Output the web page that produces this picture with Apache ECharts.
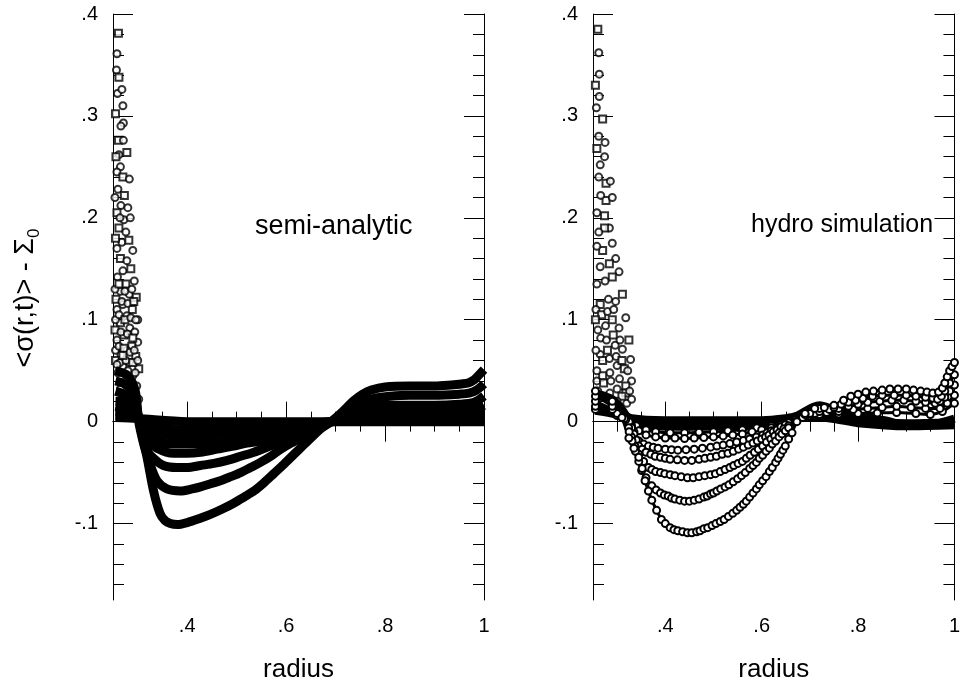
<!DOCTYPE html>
<html>
<head>
<meta charset="utf-8">
<script src="https://cdn.jsdelivr.net/npm/echarts@6/dist/echarts.min.js"></script>
<style>
    html, body {margin: 0; padding: 0; background: #fff; overflow: hidden;}
    #chartWrap {width: 963px; height: 688px;}
</style>
</head>
<body>
<div id="chartWrap"></div>
<script>
// tick positions
const xMajor = [0.4, 0.6, 0.8, 1.0];
const xMinor = [0.3, 0.35, 0.45, 0.5, 0.55, 0.65, 0.7, 0.75, 0.85, 0.9, 0.95];
const yMajor = [-0.1, 0, 0.1, 0.2, 0.3, 0.4];
const yMinor = [-0.16, -0.14, -0.12, -0.08, -0.06, -0.04, -0.02, 0.02, 0.04, 0.06, 0.08,
    0.12, 0.14, 0.16, 0.18, 0.22, 0.24, 0.26, 0.28, 0.32, 0.34, 0.36, 0.38];

// semi-analytic panel, one array per snapshot [radius, value]
const semi1 = [[0.255, 0.05], [0.28, 0.045], [0.295, 0.03], [0.302, 0.0], [0.31, -0.018], [0.318, -0.033],
    [0.332, -0.068], [0.345, -0.090], [0.355, -0.097], [0.366, -0.100], [0.38, -0.101], [0.40, -0.099],
    [0.425, -0.095], [0.447, -0.091], [0.47, -0.086], [0.494, -0.080], [0.515, -0.074], [0.535, -0.068],
    [0.555, -0.060], [0.575, -0.051], [0.595, -0.042], [0.616, -0.032], [0.635, -0.023], [0.65, -0.016],
    [0.67, -0.007], [0.691, 0.0], [0.71, 0.008], [0.738, 0.021], [0.755, 0.027], [0.772, 0.031], [0.80, 0.034],
    [0.85, 0.035], [0.90, 0.035], [0.934, 0.036], [0.955, 0.037], [0.968, 0.038], [0.98, 0.041], [0.99, 0.046],
    [1.0, 0.051]];
const semi2 = [[0.255, 0.04], [0.28, 0.035], [0.295, 0.02], [0.303, 0.0], [0.313, -0.022], [0.325, -0.042],
    [0.339, -0.058], [0.359, -0.066], [0.386, -0.068], [0.41, -0.066], [0.427, -0.064], [0.447, -0.061],
    [0.467, -0.058], [0.488, -0.054], [0.508, -0.050], [0.528, -0.045], [0.548, -0.040], [0.569, -0.034],
    [0.589, -0.027], [0.61, -0.021], [0.63, -0.016], [0.66, -0.008], [0.691, 0.0], [0.72, 0.010], [0.75, 0.018],
    [0.78, 0.023], [0.81, 0.025], [0.85, 0.026], [0.90, 0.026], [0.95, 0.027], [0.97, 0.028], [0.985, 0.031],
    [1.0, 0.037]];
const semi3 = [[0.255, 0.03], [0.28, 0.025], [0.295, 0.015], [0.304, 0.0], [0.318, -0.028], [0.332, -0.036],
    [0.352, -0.043], [0.379, -0.045], [0.40, -0.045], [0.427, -0.043], [0.454, -0.041], [0.481, -0.038],
    [0.508, -0.034], [0.535, -0.030], [0.562, -0.025], [0.589, -0.020], [0.616, -0.015], [0.643, -0.0096],
    [0.67, -0.004], [0.691, 0.0], [0.72, 0.007], [0.75, 0.012], [0.78, 0.015], [0.81, 0.016], [0.90, 0.016],
    [0.95, 0.017], [0.98, 0.019], [1.0, 0.025]];
const semi4 = [[0.255, 0.02], [0.28, 0.018], [0.295, 0.01], [0.305, 0.0], [0.32, -0.018], [0.339, -0.026],
    [0.372, -0.031], [0.40, -0.031], [0.427, -0.030], [0.46, -0.027], [0.494, -0.024], [0.521, -0.021],
    [0.548, -0.019], [0.575, -0.015], [0.603, -0.012], [0.63, -0.008], [0.66, -0.004], [0.691, 0.0],
    [0.72, 0.004], [0.75, 0.008], [0.80, 0.010], [0.90, 0.010], [0.97, 0.011], [1.0, 0.016]];
const semi5 = [[0.255, 0.015], [0.29, 0.01], [0.306, 0.0], [0.32, -0.014], [0.339, -0.020], [0.386, -0.022],
    [0.454, -0.021], [0.528, -0.017], [0.603, -0.011], [0.65, -0.005], [0.691, 0.0], [0.75, 0.005],
    [0.80, 0.007], [0.90, 0.007], [0.97, 0.008], [1.0, 0.011]];
const semi6 = [[0.255, 0.01], [0.29, 0.008], [0.306, 0.0], [0.33, -0.011], [0.40, -0.014], [0.48, -0.012],
    [0.56, -0.009], [0.63, -0.005], [0.691, 0.0], [0.80, 0.004], [0.95, 0.005], [1.0, 0.007]];
const semi7 = [[0.255, 0.006], [0.30, 0.004], [0.33, -0.005], [0.40, -0.008], [0.50, -0.007], [0.60, -0.004],
    [0.691, 0.0], [0.80, 0.002], [1.0, 0.003]];
const semi8 = [[0.255, 0.004], [0.30, 0.003], [0.40, 0.0], [0.70, 0.0], [1.0, 0.0]];
const semiCloud = [[0.261, 0.381], [0.258, 0.361], [0.257, 0.345], [0.262, 0.338], [0.259, 0.322],
    [0.268, 0.326], [0.255, 0.302], [0.27, 0.31], [0.271, 0.293], [0.261, 0.276], [0.271, 0.276],
    [0.262, 0.262], [0.278, 0.264], [0.265, 0.25], [0.258, 0.245], [0.27, 0.24], [0.283, 0.238],
    [0.26, 0.228], [0.273, 0.222], [0.266, 0.212], [0.28, 0.21], [0.258, 0.205], [0.272, 0.198],
    [0.285, 0.2], [0.262, 0.19], [0.276, 0.186], [0.268, 0.176], [0.282, 0.178], [0.258, 0.17],
    [0.29, 0.168], [0.265, 0.16], [0.278, 0.158], [0.27, 0.148], [0.286, 0.15], [0.259, 0.142],
    [0.293, 0.138], [0.276, 0.135], [0.265, 0.128], [0.283, 0.125], [0.297, 0.122], [0.27, 0.115],
    [0.258, 0.11], [0.289, 0.11], [0.278, 0.104], [0.30, 0.1], [0.265, 0.097], [0.284, 0.092],
    [0.294, 0.088], [0.272, 0.085], [0.258, 0.08], [0.30, 0.078], [0.288, 0.074], [0.278, 0.07],
    [0.266, 0.066], [0.296, 0.064], [0.283, 0.058], [0.27, 0.054], [0.302, 0.052], [0.26, 0.048],
    [0.29, 0.045], [0.278, 0.04], [0.298, 0.035], [0.265, 0.032], [0.285, 0.028], [0.302, 0.022],
    [0.254, 0.13], [0.262, 0.135], [0.274, 0.128], [0.288, 0.13], [0.256, 0.12], [0.268, 0.118],
    [0.28, 0.116], [0.292, 0.118], [0.255, 0.1], [0.262, 0.105], [0.274, 0.1], [0.286, 0.102],
    [0.296, 0.1], [0.254, 0.09], [0.266, 0.088], [0.279, 0.086], [0.29, 0.082], [0.255, 0.07],
    [0.262, 0.074], [0.272, 0.072], [0.284, 0.068], [0.293, 0.07], [0.255, 0.06], [0.264, 0.058],
    [0.276, 0.06], [0.29, 0.058], [0.30, 0.06], [0.258, 0.056], [0.27, 0.065], [0.28, 0.05],
    [0.295, 0.048], [0.255, 0.18], [0.264, 0.2], [0.254, 0.22], [0.256, 0.26], [0.266, 0.29]];

// hydro simulation panel
const hydro1 = [[0.255, 0.03], [0.29, 0.02], [0.31, 0.004], [0.3245, -0.016], [0.335, -0.026], [0.345, -0.035],
    [0.352, -0.046], [0.358, -0.058], [0.365, -0.068], [0.372, -0.077], [0.382, -0.087], [0.392, -0.096],
    [0.40, -0.100], [0.41, -0.104], [0.418, -0.106], [0.426, -0.107], [0.436, -0.108], [0.446, -0.109],
    [0.455, -0.109], [0.465, -0.108], [0.472, -0.107], [0.48, -0.105], [0.488, -0.104], [0.497, -0.102],
    [0.505, -0.100], [0.514, -0.098], [0.522, -0.096], [0.531, -0.093], [0.54, -0.090], [0.548, -0.087],
    [0.555, -0.084], [0.562, -0.081], [0.568, -0.078], [0.575, -0.074], [0.582, -0.070], [0.589, -0.066],
    [0.595, -0.062], [0.602, -0.058], [0.609, -0.054], [0.616, -0.049], [0.622, -0.045], [0.629, -0.040],
    [0.634, -0.036], [0.639, -0.032], [0.644, -0.028], [0.649, -0.024], [0.656, -0.017], [0.663, -0.011],
    [0.673, 0.0], [0.69, 0.008], [0.71, 0.013], [0.73, 0.014], [0.75, 0.016], [0.77, 0.021], [0.785, 0.025],
    [0.80, 0.027], [0.816, 0.029], [0.832, 0.030], [0.85, 0.031], [0.866, 0.032], [0.883, 0.032], [0.90, 0.032],
    [0.915, 0.031], [0.93, 0.030], [0.943, 0.029], [0.955, 0.028], [0.967, 0.029], [0.975, 0.033],
    [0.98, 0.038], [0.985, 0.044], [0.99, 0.05], [0.995, 0.054], [1.0, 0.058]];
const hydro2 = [[0.255, 0.025], [0.29, 0.015], [0.315, 0.003], [0.325, -0.01], [0.331, -0.019], [0.338, -0.029],
    [0.345, -0.039], [0.351, -0.048], [0.36, -0.055], [0.372, -0.063], [0.381, -0.067], [0.39, -0.070],
    [0.398, -0.072], [0.406, -0.073], [0.413, -0.075], [0.42, -0.076], [0.43, -0.077], [0.44, -0.078],
    [0.45, -0.078], [0.46, -0.077], [0.47, -0.076], [0.48, -0.074], [0.487, -0.073], [0.494, -0.071],
    [0.50, -0.070], [0.507, -0.068], [0.515, -0.066], [0.524, -0.064], [0.532, -0.062], [0.541, -0.059],
    [0.55, -0.056], [0.558, -0.053], [0.566, -0.050], [0.575, -0.046], [0.582, -0.043], [0.589, -0.040],
    [0.595, -0.036], [0.602, -0.033], [0.609, -0.029], [0.616, -0.026], [0.622, -0.022], [0.629, -0.019],
    [0.636, -0.015], [0.642, -0.012], [0.649, -0.009], [0.656, -0.006], [0.67, 0.0], [0.69, 0.007],
    [0.72, 0.013], [0.75, 0.014], [0.765, 0.017], [0.78, 0.019], [0.795, 0.021], [0.81, 0.023], [0.83, 0.025],
    [0.85, 0.026], [0.875, 0.026], [0.90, 0.026], [0.92, 0.025], [0.94, 0.024], [0.955, 0.023],
    [0.965, 0.022], [0.973, 0.025], [0.98, 0.03], [0.99, 0.038], [1.0, 0.046]];
const hydro3 = [[0.255, 0.02], [0.29, 0.012], [0.318, 0.002], [0.324, -0.006], [0.33, -0.015], [0.337, -0.024],
    [0.345, -0.032], [0.355, -0.039], [0.365, -0.045], [0.372, -0.047], [0.38, -0.049], [0.39, -0.050],
    [0.399, -0.051], [0.41, -0.052], [0.42, -0.053], [0.433, -0.054], [0.446, -0.055], [0.458, -0.055],
    [0.47, -0.054], [0.482, -0.053], [0.494, -0.052], [0.504, -0.051], [0.514, -0.049], [0.524, -0.047],
    [0.534, -0.045], [0.542, -0.043], [0.551, -0.041], [0.56, -0.039], [0.568, -0.036], [0.576, -0.033],
    [0.585, -0.030], [0.593, -0.027], [0.602, -0.024], [0.61, -0.020], [0.619, -0.017], [0.627, -0.014],
    [0.636, -0.011], [0.646, -0.007], [0.656, -0.004], [0.67, 0.0], [0.685, 0.004], [0.70, 0.008],
    [0.72, 0.010], [0.74, 0.012], [0.76, 0.013], [0.78, 0.015], [0.80, 0.017], [0.82, 0.019], [0.845, 0.020],
    [0.87, 0.021], [0.895, 0.021], [0.92, 0.020], [0.94, 0.019], [0.96, 0.018], [0.97, 0.020], [0.98, 0.024],
    [0.99, 0.030], [1.0, 0.036]];
const hydro4 = [[0.255, 0.015], [0.30, 0.008], [0.325, 0.0], [0.33, -0.006], [0.335, -0.012], [0.34, -0.018],
    [0.345, -0.024], [0.352, -0.027], [0.36, -0.03], [0.37, -0.032], [0.379, -0.034], [0.39, -0.035],
    [0.40, -0.036], [0.41, -0.037], [0.425, -0.0375], [0.44, -0.038], [0.455, -0.038], [0.47, -0.037],
    [0.482, -0.036], [0.494, -0.035], [0.506, -0.034], [0.518, -0.032], [0.53, -0.031], [0.541, -0.029],
    [0.552, -0.027], [0.562, -0.025], [0.572, -0.023], [0.582, -0.021], [0.591, -0.019], [0.60, -0.017],
    [0.608, -0.015], [0.615, -0.013], [0.624, -0.010], [0.632, -0.008], [0.64, -0.005], [0.649, -0.003],
    [0.67, 0.002], [0.69, 0.005], [0.71, 0.008], [0.735, 0.009], [0.76, 0.010], [0.79, 0.012], [0.82, 0.013],
    [0.85, 0.014], [0.88, 0.015], [0.91, 0.014], [0.94, 0.013], [0.97, 0.013], [0.985, 0.018], [1.0, 0.026]];
const hydro5 = [[0.255, 0.012], [0.30, 0.006], [0.325, 0.0], [0.335, -0.01], [0.345, -0.019], [0.355, -0.022],
    [0.365, -0.024], [0.375, -0.025], [0.385, -0.026], [0.40, -0.027], [0.413, -0.0275], [0.426, -0.028],
    [0.443, -0.0275], [0.46, -0.027], [0.477, -0.026], [0.494, -0.025], [0.507, -0.024], [0.52, -0.023],
    [0.534, -0.0215], [0.548, -0.020], [0.562, -0.0185], [0.575, -0.017], [0.589, -0.015], [0.602, -0.013],
    [0.611, -0.011], [0.62, -0.009], [0.631, -0.007], [0.642, -0.005], [0.656, -0.001], [0.67, 0.003],
    [0.695, 0.005], [0.72, 0.007], [0.76, 0.0075], [0.80, 0.008], [0.84, 0.0085], [0.88, 0.009], [0.92, 0.008],
    [0.95, 0.007], [0.975, 0.010], [1.0, 0.018]];
const hydro6 = [[0.33, -0.004], [0.345, -0.009], [0.36, -0.013], [0.38, -0.015], [0.40, -0.016], [0.42, -0.016],
    [0.44, -0.0165], [0.46, -0.016], [0.48, -0.0155], [0.50, -0.015], [0.52, -0.014], [0.54, -0.013],
    [0.56, -0.012], [0.58, -0.010], [0.60, -0.008], [0.62, -0.006], [0.64, -0.003], [0.66, 0.0]];
const hydro9 = [[0.34, -0.004], [0.36, -0.008], [0.38, -0.010], [0.41, -0.011], [0.44, -0.011], [0.47, -0.0105],
    [0.50, -0.010], [0.53, -0.009], [0.56, -0.008], [0.59, -0.006], [0.62, -0.004], [0.64, -0.002]];
const hydro7 = [[0.255, 0.028], [0.29, 0.022], [0.31, 0.012], [0.33, 0.0], [0.36, -0.004], [0.45, -0.005],
    [0.55, -0.004], [0.63, -0.002], [0.67, 0.005], [0.72, 0.016], [0.75, 0.012], [0.80, 0.006], [0.86, 0.001],
    [0.90, -0.004], [0.95, -0.003], [1.0, 0.003]];
const hydro8 = [[0.255, 0.012], [0.30, 0.008], [0.33, 0.002], [0.40, 0.0], [0.60, 0.0], [0.65, 0.002],
    [0.70, 0.006], [0.75, 0.004], [0.80, 0.0], [0.90, -0.003], [1.0, -0.002]];
const hydroCloud = [[0.26, 0.385], [0.262, 0.362], [0.263, 0.341], [0.255, 0.33], [0.263, 0.319],
    [0.257, 0.308], [0.27, 0.297], [0.262, 0.28], [0.275, 0.274], [0.258, 0.268], [0.274, 0.26],
    [0.265, 0.252], [0.277, 0.234], [0.262, 0.24], [0.286, 0.236], [0.277, 0.217], [0.266, 0.222],
    [0.29, 0.22], [0.274, 0.202], [0.258, 0.205], [0.284, 0.19], [0.274, 0.19], [0.262, 0.186],
    [0.29, 0.175], [0.27, 0.168], [0.258, 0.172], [0.297, 0.16], [0.284, 0.155], [0.265, 0.152],
    [0.304, 0.147], [0.29, 0.142], [0.275, 0.138], [0.258, 0.135], [0.311, 0.125], [0.297, 0.118],
    [0.282, 0.12], [0.265, 0.115], [0.318, 0.102], [0.304, 0.092], [0.29, 0.1], [0.276, 0.094],
    [0.26, 0.09], [0.3245, 0.08], [0.311, 0.071], [0.296, 0.075], [0.28, 0.07], [0.265, 0.066],
    [0.328, 0.061], [0.315, 0.052], [0.30, 0.055], [0.285, 0.048], [0.27, 0.045], [0.258, 0.05],
    [0.33, 0.04], [0.318, 0.035], [0.30, 0.032], [0.285, 0.028], [0.27, 0.025], [0.32, 0.018],
    [0.305, 0.015], [0.29, 0.012], [0.275, 0.01], [0.256, 0.11], [0.268, 0.105], [0.28, 0.108],
    [0.293, 0.11], [0.255, 0.1], [0.266, 0.082], [0.278, 0.08], [0.292, 0.085], [0.306, 0.08],
    [0.256, 0.07], [0.27, 0.06], [0.284, 0.062], [0.298, 0.064], [0.31, 0.06], [0.322, 0.05],
    [0.258, 0.04], [0.272, 0.038], [0.287, 0.04], [0.305, 0.042], [0.318, 0.028], [0.33, 0.022],
    [0.326, 0.03], [0.31, 0.025], [0.26, 0.03], [0.30, 0.02]];

const FONT = 'Liberation Sans';

function fmt(v) {
    if (v === 0) return '0';
    let s = String(Math.abs(v)).replace(/^0/, '');
    return (v < 0 ? '-' : '') + s;
}

function xAxes(g) {
    const base = {type: 'value', gridIndex: g, min: 0.25, max: 1, splitLine: {show: false}};
    return [
        Object.assign({}, base, {
            position: 'bottom',
            axisLine: {show: true, lineStyle: {color: '#000', width: 1}},
            axisTick: {show: true, inside: true, length: 20, customValues: xMajor, lineStyle: {color: '#000'}},
            axisLabel: {show: true, customValues: xMajor, formatter: fmt, fontSize: 20, margin: 16,
                color: '#000', fontFamily: FONT},
            name: 'radius', nameLocation: 'middle', nameGap: 57,
            nameTextStyle: {fontSize: 26, color: '#000', fontFamily: FONT}
        }),
        Object.assign({}, base, {
            position: 'bottom', axisLine: {show: false},
            axisTick: {show: true, inside: true, length: 10, customValues: xMinor, lineStyle: {color: '#000'}},
            axisLabel: {show: false}
        }),
        Object.assign({}, base, {
            position: 'top',
            axisLine: {show: true, lineStyle: {color: '#000', width: 1}},
            axisTick: {show: true, inside: true, length: 20, customValues: xMajor, lineStyle: {color: '#000'}},
            axisLabel: {show: false}
        }),
        Object.assign({}, base, {
            position: 'top', axisLine: {show: false},
            axisTick: {show: true, inside: true, length: 10, customValues: xMinor, lineStyle: {color: '#000'}},
            axisLabel: {show: false}
        })
    ];
}

function yAxes(g) {
    const base = {type: 'value', gridIndex: g, min: -0.175, max: 0.4, splitLine: {show: false}};
    return [
        Object.assign({}, base, {
            position: 'left',
            axisLine: {show: true, lineStyle: {color: '#000', width: 1}},
            axisTick: {show: true, inside: true, length: 20, customValues: yMajor, lineStyle: {color: '#000'}},
            axisLabel: {show: true, customValues: yMajor, formatter: fmt, fontSize: 20, margin: 15,
                color: '#000', fontFamily: FONT}
        }),
        Object.assign({}, base, {
            position: 'left', axisLine: {show: false},
            axisTick: {show: true, inside: true, length: 11, customValues: yMinor, lineStyle: {color: '#000'}},
            axisLabel: {show: false}
        }),
        Object.assign({}, base, {
            position: 'right',
            axisLine: {show: true, lineStyle: {color: '#000', width: 1}},
            axisTick: {show: true, inside: true, length: 20, customValues: yMajor, lineStyle: {color: '#000'}},
            axisLabel: {show: false}
        }),
        Object.assign({}, base, {
            position: 'right', axisLine: {show: false},
            axisTick: {show: true, inside: true, length: 11, customValues: yMinor, lineStyle: {color: '#000'}},
            axisLabel: {show: false}
        })
    ];
}

function band(data, g, w) {
    return {
        type: 'line', data: data, xAxisIndex: g * 4, yAxisIndex: g * 4,
        smooth: 0.3, symbol: 'none', silent: true,
        lineStyle: {color: '#000', width: w}
    };
}

function chain(data, g) {
    return {
        type: 'line', data: data, xAxisIndex: g * 4, yAxisIndex: g * 4,
        smooth: 0.3, symbol: 'emptyCircle', symbolSize: 7, showSymbol: true, silent: true,
        itemStyle: {color: '#000', borderWidth: 1.4},
        lineStyle: {color: '#000', width: 3}
    };
}

function cloud(data, g) {
    return {
        type: 'scatter', data: data, xAxisIndex: g * 4, yAxisIndex: g * 4, silent: true,
        symbol: function (v, p) { return p.dataIndex % 3 === 0 ? 'emptyRect' : 'emptyCircle'; },
        symbolSize: 7,
        itemStyle: {color: '#000', borderWidth: 1.3}
    };
}

const myChart = echarts.init(document.getElementById('chartWrap'));
myChart.setOption({
    animation: false,
    backgroundColor: '#fff',
    title: [
        {text: 'semi-analytic', left: 250, top: 208,
            textStyle: {fontSize: 27, fontWeight: 'normal', color: '#000', fontFamily: FONT}},
        {text: 'hydro simulation', left: 746, top: 208,
            textStyle: {fontSize: 25, fontWeight: 'normal', color: '#000', fontFamily: FONT}}
    ],
    graphic: [{
        type: 'text', x: 26, y: 298, rotation: Math.PI / 2,
        style: {
            text: '<σ(r,t)> - Σ{sub|0}', align: 'center', verticalAlign: 'middle',
            fontSize: 27, fontFamily: FONT, fill: '#000',
            rich: {sub: {fontSize: 17, fontFamily: FONT, fill: '#000', padding: [16, 0, 0, 0]}}
        }
    }],
    grid: [
        {left: 113, top: 14, width: 371, height: 598},
        {left: 593, top: 14, width: 369, height: 598}
    ],
    xAxis: xAxes(0).concat(xAxes(1)),
    yAxis: yAxes(0).concat(yAxes(1)),
    series: [
        cloud(semiCloud, 0),
        band(semi8, 0, 9), band(semi7, 0, 9), band(semi6, 0, 9), band(semi5, 0, 9),
        band(semi4, 0, 9), band(semi3, 0, 9), band(semi2, 0, 9), band(semi1, 0, 9),
        cloud(hydroCloud, 1),
        band(hydro8, 1, 11), band(hydro7, 1, 8), chain(hydro9, 1), chain(hydro6, 1),
        chain(hydro5, 1), chain(hydro4, 1), chain(hydro3, 1), chain(hydro2, 1), chain(hydro1, 1)
    ]
});
</script>
</body>
</html>
